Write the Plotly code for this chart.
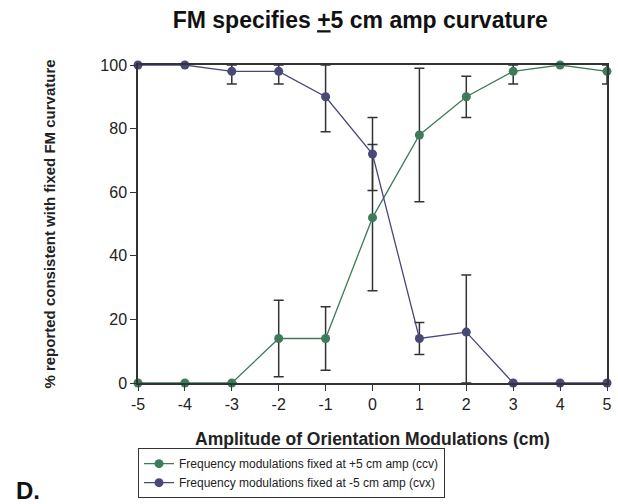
import plotly.graph_objects as go

# Amplitude of orientation modulation (cm)
amplitude = [-5, -4, -3, -2, -1, 0, 1, 2, 3, 4, 5]

# FM fixed at +5 cm amp (ccv): % reported consistent, with error
ccv_pct = [0, 0, 0, 14, 14, 52, 78, 90, 98, 100, 98]
ccv_err = [0, 0, 0, 12, 10, 23, 21, 6.5, 4, 0, 4]

# FM fixed at -5 cm amp (cvx): % reported consistent, with error
cvx_pct = [100, 100, 98, 98, 90, 72, 14, 16, 0, 0, 0]
cvx_err = [0, 0, 4, 4, 11, 11.5, 5, 18, 0, 0, 0]

y_ticks = [0, 20, 40, 60, 80, 100]
x_ticks = amplitude
x_tick_text = ["-5", "-4", "-3", "-2", "-1", "0", "1", "2", "3", "4", "5"]

GREEN = "#3e7b5b"
PURPLE = "#4a4878"
ERR = "#333333"
FONT = "Liberation Sans, Arial, sans-serif"


def bounded(vals, errs):
    # error bars stop at the 0-100 frame
    up = [min(e, 100 - v) for v, e in zip(vals, errs)]
    dn = [min(e, v) for v, e in zip(vals, errs)]
    return up, dn


fig = go.Figure()
for name, vals, errs, col in [
    ("Frequency modulations fixed at +5 cm amp (ccv)", ccv_pct, ccv_err, GREEN),
    ("Frequency modulations fixed at -5 cm amp (cvx)", cvx_pct, cvx_err, PURPLE),
]:
    up, dn = bounded(vals, errs)
    fig.add_trace(go.Scatter(
        x=amplitude, y=vals, name=name, mode="lines+markers",
        line=dict(color=col, width=1.3),
        marker=dict(color=col, size=9),
        error_y=dict(type="data", symmetric=False, array=up, arrayminus=dn,
                     color=ERR, thickness=1.5, width=5),
        cliponaxis=False,
    ))

fig.update_layout(
    width=618, height=504,
    margin=dict(l=138, r=6, t=65, b=119),
    paper_bgcolor="white", plot_bgcolor="white",
    font=dict(family=FONT, color="#222222"),
    title=dict(text="<b>FM specifies <u>+</u>5 cm amp curvature</b>",
               x=0.583, xanchor="center", y=0.960, yanchor="middle",
               font=dict(size=23, color="#111111")),
    legend=dict(x=0.0, y=-0.205, xanchor="left", yanchor="top",
                bordercolor="#333333", borderwidth=1,
                font=dict(size=12, color="#222222"),
                tracegroupgap=0, itemwidth=30),
    showlegend=True,
)
fig.update_xaxes(
    range=[-5, 5], tickvals=x_ticks, ticktext=x_tick_text,
    ticks="outside", ticklen=6, tickcolor="#333333", tickwidth=1.3,
    showline=True, linecolor="#333333", linewidth=1.5, mirror=True,
    showgrid=False, zeroline=False,
    tickfont=dict(size=16, color="#222222"),
    title=dict(text="<b>Amplitude of Orientation Modulations (cm)</b>",
               font=dict(size=17.5, color="#222222"), standoff=21),
)
fig.update_yaxes(
    range=[0, 100], tickvals=y_ticks, ticks="outside", ticklen=6,
    tickcolor="#333333", tickwidth=1.3,
    showline=True, linecolor="#333333", linewidth=1.5, mirror=True,
    showgrid=False, zeroline=False,
    tickfont=dict(size=16, color="#222222"),
    title=dict(text="<b>% reported consistent with fixed FM curvature</b>",
               font=dict(size=15, color="#222222"), standoff=41),
)
fig.add_annotation(text="<b>D.</b>", xref="paper", yref="paper",
                   x=-0.265, y=-0.338, xanchor="left", yanchor="middle",
                   showarrow=False, font=dict(size=24, color="#111111"))

fig.write_html("out.html")
